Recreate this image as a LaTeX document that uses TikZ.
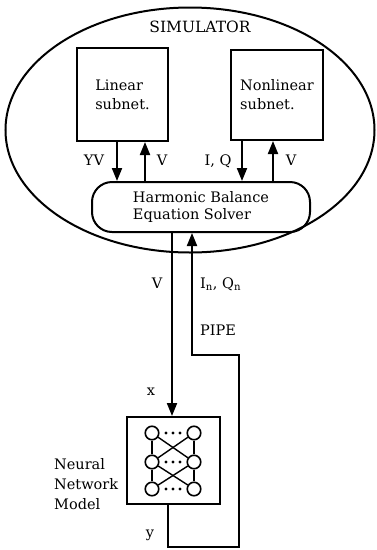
\documentclass[tikz,border=0pt]{standalone}
\usepackage{fontspec}
\setmainfont{DejaVu Serif}
\usetikzlibrary{shapes.geometric,arrows.meta}
\tikzset{
  lbl/.style={font=\fontsize{14.5}{17}\selectfont, inner sep=0pt},
  boxed/.style={draw, line width=2pt, inner sep=0pt, align=left, font=\fontsize{14.5}{19}\selectfont},
  arr/.style={-{Triangle[width=10pt,length=13pt]}, line width=2pt},
  neuron/.style={draw, circle, minimum size=13.5pt, inner sep=0pt, line width=1.6pt},
  link/.style={line width=1.4pt}
}
\begin{document}
\begin{tikzpicture}[x=1pt,y=-1pt]
\useasboundingbox (0,0) rectangle (376,550);
% simulator ellipse
\node[draw, ellipse, minimum width=369, minimum height=245, inner sep=0pt, line width=2pt] (sim) at (190,130) {};
\node[lbl, font=\fontsize{15.5}{18}\selectfont, anchor=base] (simlbl) at (200,32) {SIMULATOR};
% subnets
\node[boxed, minimum width=91, minimum height=93] (lin) at (122.5,94.5) {Linear\\subnet.};
\node[boxed, minimum width=92, minimum height=90] (nlin) at (277,95) {Nonlinear\\subnet.};
% solver
\node[boxed, rounded corners=20pt, minimum width=218, minimum height=50, font=\fontsize{14.5}{17}\selectfont] (sol) at (201,207) {Harmonic Balance\\Equation Solver};
% arrows subnet <-> solver
\draw[arr] ([xshift=-5.5]lin.south) -- ([xshift=-5.5]lin.south |- sol.north);
\draw[arr] ([xshift=22.5]lin.south |- sol.north) -- ([xshift=22.5]lin.south);
\draw[arr] ([xshift=-35]nlin.south) -- ([xshift=-35]nlin.south |- sol.north);
\draw[arr] ([xshift=-4]nlin.south |- sol.north) -- ([xshift=-4]nlin.south);
\node[lbl, anchor=base] (lyv) at (94,165) {YV};
\node[lbl, anchor=base] (lv1) at (162,165) {V};
\node[lbl, anchor=base] (liq) at (218,165) {I, Q};
\node[lbl, anchor=base] (lv2) at (291,165) {V};
% neural network model
\node[draw, line width=2pt, minimum width=93, minimum height=87, inner sep=0pt] (nn) at (173.5,460.5) {};
\node[neuron] (n11) at (152,433) {};
\node[neuron] (n12) at (194,433) {};
\node[neuron] (n21) at (152,462) {};
\node[neuron] (n22) at (194,462) {};
\node[neuron] (n31) at (152,489) {};
\node[neuron] (n32) at (194,489) {};
\draw[link] (n11) -- (n21);
\draw[link] (n21) -- (n31);
\draw[link] (n12) -- (n22);
\draw[link] (n22) -- (n32);
\draw[link] (n11) -- (n22);
\draw[link] (n12) -- (n21);
\draw[link] (n21) -- (n32);
\draw[link] (n22) -- (n31);
\foreach \yy in {433,462,489}{
  \foreach \xx in {166,173,180}{
    \fill (\xx,\yy) circle (1.7pt);
  }
}
\node[lbl, align=left, anchor=west, font=\fontsize{14.5}{20}\selectfont] (nnlbl) at (54,484) {Neural\\Network\\Model};
% V line to network
\draw[arr] ([xshift=-29]sol.south) -- ([xshift=-29]sol.south |- nn.north);
% pipe back
\coordinate (pa) at (168,547);
\coordinate (pb) at (239,547);
\coordinate (pc) at (239,355);
\coordinate (pd) at (192,355);
\draw[arr] (nn.south -| pa) -- (pa) -- (pb) -- (pc) -- (pd) -- (pd |- sol.south);
\node[lbl, anchor=base] (lv3) at (157,288) {V};
\node[lbl, anchor=base west] (lin2) at (200,288) {I\textsubscript{n}, Q\textsubscript{n}};
\node[lbl, anchor=base west] (lpipe) at (200,335) {PIPE};
\node[lbl, anchor=base] (lx) at (151,395) {x};
\node[lbl, anchor=base] (ly) at (150,537) {y};
\end{tikzpicture}
\end{document}
